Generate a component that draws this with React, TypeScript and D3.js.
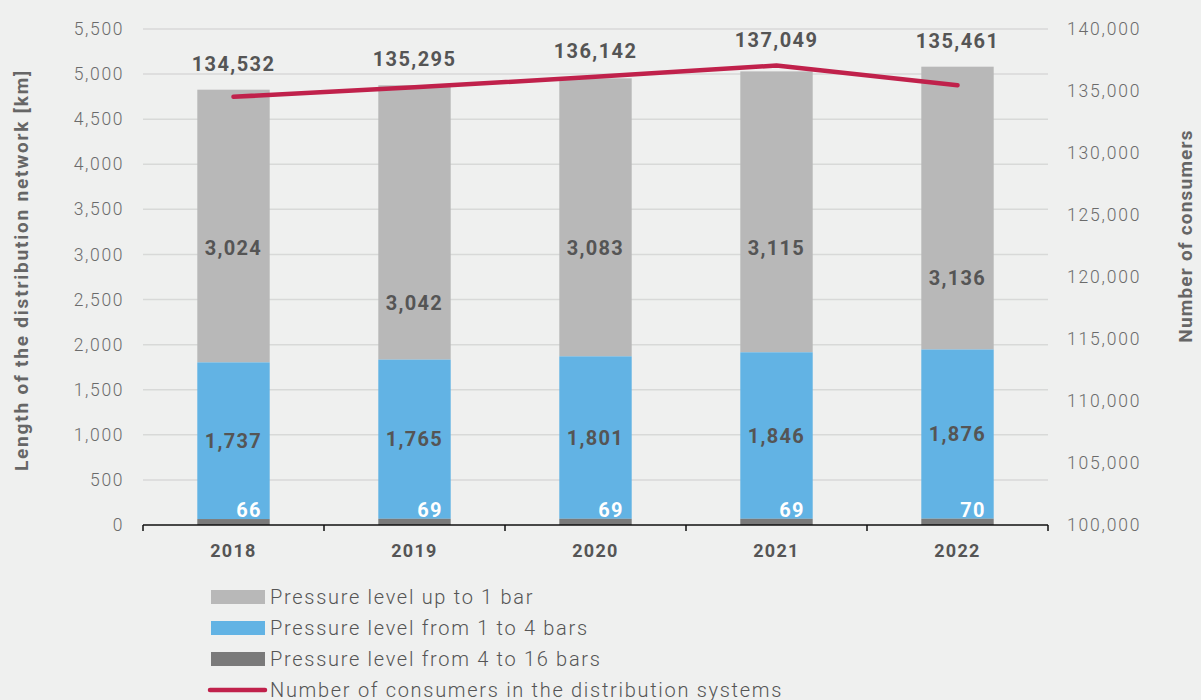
import React from "react";
import * as d3 from "d3";

const years = ["2018", "2019", "2020", "2021", "2022"];
const high = [66, 69, 69, 69, 70]; // 4 to 16 bars
const mid = [1737, 1765, 1801, 1846, 1876]; // 1 to 4 bars
const low = [3024, 3042, 3083, 3115, 3136]; // up to 1 bar
const consumers = [134532, 135295, 136142, 137049, 135461];
const lowLabelAt = [3070, 2460, 3070, 3070, 2740]; // label anchor (km) as in source
const leftTicks = d3.range(0, 5501, 500);
const rightTicks = d3.range(100000, 140001, 5000);
const legendItems = [
  { label: "Pressure level up to 1 bar", kind: "rect", color: "#b8b8b8" },
  { label: "Pressure level from 1 to 4 bars", kind: "rect", color: "#62b3e4" },
  { label: "Pressure level from 4 to 16 bars", kind: "rect", color: "#7a7a7a" },
  { label: "Number of consumers in the distribution systems", kind: "line", color: "#c0214b" },
];

const W = 1201, H = 700;
const M = { left: 143, right: 1048, top: 29, bottom: 525 };
const FONT = "Roboto, 'Open Sans', sans-serif";
const fmt = d3.format(",");

export default function App() {
  const x = d3.scaleBand<string>().domain(years).range([M.left, M.right]).padding(0);
  const y = d3.scaleLinear().domain([0, 5500]).range([M.bottom, M.top]);
  const y2 = d3.scaleLinear().domain([100000, 140000]).range([M.bottom, M.top]);
  const bw = x.bandwidth() * 0.4;
  const cx = (yr: string) => (x(yr) as number) + x.bandwidth() / 2;

  const line = d3
    .line<number>()
    .x((_, i) => cx(years[i]))
    .y((d) => y2(d));

  return (
    <svg width={W} height={H} style={{ position: "absolute", left: 0, top: 0, background: "#eff0ef", fontFamily: FONT }}>
      <rect x={0} y={0} width={W} height={H} fill="#eff0ef" />
      {/* gridlines */}
      {leftTicks.filter((t) => t > 0).map((t) => (
        <line key={t} x1={M.left} x2={M.right} y1={y(t)} y2={y(t)} stroke="#d8d9d8" strokeWidth={1.5} />
      ))}
      {/* left tick labels */}
      {leftTicks.map((t) => (
        <text key={t} x={124} y={y(t)} dy="0.35em" textAnchor="end" fontSize={17.5} letterSpacing={1.6} fill="#6b6b6b" fontWeight={300}>
          {fmt(t)}
        </text>
      ))}
      {/* right tick labels */}
      {rightTicks.map((t) => (
        <text key={t} x={1067} y={y2(t)} dy="0.35em" textAnchor="start" fontSize={17.5} letterSpacing={1.8} fill="#6b6b6b" fontWeight={300}>
          {fmt(t)}
        </text>
      ))}
      {/* axis titles */}
      <text transform={`translate(28,270) rotate(-90)`} textAnchor="middle" fontSize={19} letterSpacing={1.8} fontWeight={700} fill="#666">
        Length of the distribution network [km]
      </text>
      <text transform={`translate(1192,236) rotate(-90)`} textAnchor="middle" fontSize={19} letterSpacing={1.2} fontWeight={700} fill="#666">
        Number of consumers
      </text>
      {/* bars */}
      {years.map((yr, i) => {
        const x0 = cx(yr) - bw / 2;
        const a = high[i], b = a + mid[i], c = b + low[i];
        return (
          <g key={yr}>
            <rect x={x0} width={bw} y={y(c)} height={y(b) - y(c)} fill="#b8b8b8" />
            <rect x={x0} width={bw} y={y(b)} height={y(a) - y(b)} fill="#62b3e4" />
            <rect x={x0} width={bw} y={y(a)} height={y(0) - y(a)} fill="#7a7a7a" />
          </g>
        );
      })}
      {/* x axis */}
      <line x1={M.left} x2={M.right} y1={M.bottom} y2={M.bottom} stroke="#111" strokeWidth={1.5} />
      {[...years.map((yr) => x(yr) as number), M.right].map((t, i) => (
        <line key={i} x1={t} x2={t} y1={M.bottom} y2={M.bottom + 6} stroke="#111" strokeWidth={1.5} />
      ))}
      {years.map((yr) => (
        <text key={yr} x={cx(yr)} y={551} dy="0.35em" textAnchor="middle" fontSize={18} letterSpacing={1.3} fontWeight={700} fill="#555">
          {yr}
        </text>
      ))}
      {/* segment labels */}
      {years.map((yr, i) => (
        <g key={yr} fontWeight={700} fontSize={20} letterSpacing={1.3} textAnchor="middle">
          <text x={cx(yr)} y={y(lowLabelAt[i])} dy="0.35em" fill="#555">{fmt(low[i])}</text>
          <text x={cx(yr)} y={y(high[i] + mid[i] / 2)} dy="0.35em" fill="#555">{fmt(mid[i])}</text>
          <text x={cx(yr) + bw / 2 - 8} y={y(high[i]) - 9} dy="0.35em" fill="#fff" textAnchor="end">{fmt(high[i])}</text>
        </g>
      ))}
      {/* line */}
      <path d={line(consumers) || ""} fill="none" stroke="#c0214b" strokeWidth={4.5} strokeLinecap="round" strokeLinejoin="round" />
      {years.map((yr, i) => {
        const top = Math.min(y2(consumers[i]), y(high[i] + mid[i] + low[i]));
        return (
          <text key={yr} x={cx(yr)} y={top - 26} dy="0.35em" textAnchor="middle" fontSize={20} letterSpacing={1.4} fontWeight={700} fill="#555">
            {fmt(consumers[i])}
          </text>
        );
      })}
      {/* legend */}
      {legendItems.map((it, i) => {
        const ly = 597 + i * 31;
        return (
          <g key={it.label}>
            {it.kind === "rect" ? (
              <rect x={211} y={ly - 7} width={54} height={14} fill={it.color} />
            ) : (
              <line x1={210} x2={265} y1={ly} y2={ly} stroke={it.color} strokeWidth={4.5} strokeLinecap="round" />
            )}
            <text x={270} y={ly} dy="0.35em" fontSize={20} letterSpacing={1.7} fontWeight={300} fill="#555">
              {it.label}
            </text>
          </g>
        );
      })}
    </svg>
  );
}
